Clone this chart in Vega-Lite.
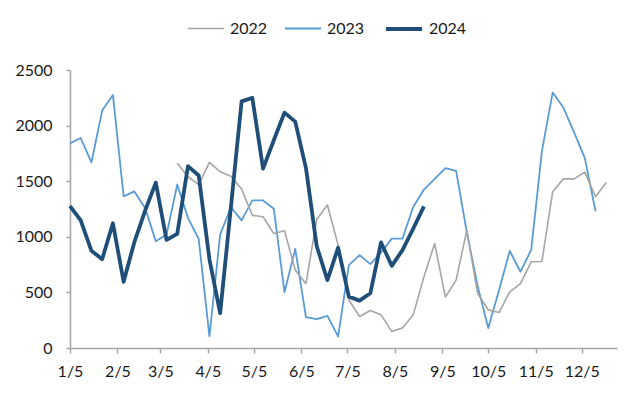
{
  "$schema": "https://vega.github.io/schema/vega-lite/v6.json",
  "width": 547,
  "height": 278,
  "autosize": {"type": "none"},
  "padding": {"left": 70, "top": 70, "right": 23, "bottom": 49},
  "background": "white",
  "config": {
    "view": {"stroke": null},
    "font": "Lato",
    "axis": {"labelFont": "Lato", "labelFontSize": 16, "labelColor": "#1a1a1a", "domainColor": "#a6a6a6", "tickColor": "#a6a6a6", "domainWidth": 1.5, "tickWidth": 1.5, "grid": false, "title": null}
  },
  "datasets": {
    "rows": [
      {"d": "2023-01-05", "year": "2023", "v": 1840}, {"d": "2023-01-12", "year": "2023", "v": 1888}, {"d": "2023-01-19", "year": "2023", "v": 1670}, {"d": "2023-01-26", "year": "2023", "v": 2135}, {"d": "2023-02-02", "year": "2023", "v": 2276}, {"d": "2023-02-09", "year": "2023", "v": 1363}, {"d": "2023-02-16", "year": "2023", "v": 1408}, {"d": "2023-02-23", "year": "2023", "v": 1260}, {"d": "2023-03-02", "year": "2023", "v": 960}, {"d": "2023-03-09", "year": "2023", "v": 1020}, {"d": "2023-03-16", "year": "2023", "v": 1470}, {"d": "2023-03-23", "year": "2023", "v": 1170}, {"d": "2023-03-30", "year": "2023", "v": 980}, {"d": "2023-04-06", "year": "2023", "v": 104}, {"d": "2023-04-13", "year": "2023", "v": 1020}, {"d": "2023-04-20", "year": "2023", "v": 1268}, {"d": "2023-04-27", "year": "2023", "v": 1148}, {"d": "2023-05-04", "year": "2023", "v": 1327}, {"d": "2023-05-11", "year": "2023", "v": 1327}, {"d": "2023-05-18", "year": "2023", "v": 1253}, {"d": "2023-05-25", "year": "2023", "v": 500}, {"d": "2023-06-01", "year": "2023", "v": 892}, {"d": "2023-06-08", "year": "2023", "v": 277}, {"d": "2023-06-15", "year": "2023", "v": 260}, {"d": "2023-06-22", "year": "2023", "v": 289}, {"d": "2023-06-29", "year": "2023", "v": 104}, {"d": "2023-07-06", "year": "2023", "v": 745}, {"d": "2023-07-13", "year": "2023", "v": 835}, {"d": "2023-07-20", "year": "2023", "v": 754}, {"d": "2023-07-27", "year": "2023", "v": 859}, {"d": "2023-08-03", "year": "2023", "v": 984}, {"d": "2023-08-10", "year": "2023", "v": 984}, {"d": "2023-08-17", "year": "2023", "v": 1268}, {"d": "2023-08-24", "year": "2023", "v": 1425}, {"d": "2023-08-31", "year": "2023", "v": 1521}, {"d": "2023-09-07", "year": "2023", "v": 1618}, {"d": "2023-09-14", "year": "2023", "v": 1593}, {"d": "2023-09-21", "year": "2023", "v": 1040}, {"d": "2023-09-28", "year": "2023", "v": 560}, {"d": "2023-10-05", "year": "2023", "v": 179}, {"d": "2023-10-12", "year": "2023", "v": 520}, {"d": "2023-10-19", "year": "2023", "v": 873}, {"d": "2023-10-26", "year": "2023", "v": 686}, {"d": "2023-11-02", "year": "2023", "v": 882}, {"d": "2023-11-09", "year": "2023", "v": 1770}, {"d": "2023-11-16", "year": "2023", "v": 2297}, {"d": "2023-11-23", "year": "2023", "v": 2162}, {"d": "2023-11-30", "year": "2023", "v": 1939}, {"d": "2023-12-07", "year": "2023", "v": 1708}, {"d": "2023-12-14", "year": "2023", "v": 1230},
      {"d": "2023-03-16", "year": "2022", "v": 1661}, {"d": "2023-03-23", "year": "2022", "v": 1540}, {"d": "2023-03-30", "year": "2022", "v": 1470}, {"d": "2023-04-06", "year": "2022", "v": 1670}, {"d": "2023-04-13", "year": "2022", "v": 1585}, {"d": "2023-04-20", "year": "2022", "v": 1545}, {"d": "2023-04-27", "year": "2022", "v": 1430}, {"d": "2023-05-04", "year": "2022", "v": 1193}, {"d": "2023-05-11", "year": "2022", "v": 1180}, {"d": "2023-05-18", "year": "2022", "v": 1029}, {"d": "2023-05-25", "year": "2022", "v": 1055}, {"d": "2023-06-01", "year": "2022", "v": 701}, {"d": "2023-06-08", "year": "2022", "v": 578}, {"d": "2023-06-15", "year": "2022", "v": 1155}, {"d": "2023-06-22", "year": "2022", "v": 1286}, {"d": "2023-06-29", "year": "2022", "v": 925}, {"d": "2023-07-06", "year": "2022", "v": 432}, {"d": "2023-07-13", "year": "2022", "v": 283}, {"d": "2023-07-20", "year": "2022", "v": 337}, {"d": "2023-07-27", "year": "2022", "v": 298}, {"d": "2023-08-03", "year": "2022", "v": 149}, {"d": "2023-08-10", "year": "2022", "v": 179}, {"d": "2023-08-17", "year": "2022", "v": 298}, {"d": "2023-08-24", "year": "2022", "v": 641}, {"d": "2023-08-31", "year": "2022", "v": 940}, {"d": "2023-09-07", "year": "2022", "v": 458}, {"d": "2023-09-14", "year": "2022", "v": 611}, {"d": "2023-09-21", "year": "2022", "v": 1059}, {"d": "2023-09-28", "year": "2022", "v": 492}, {"d": "2023-10-05", "year": "2022", "v": 343}, {"d": "2023-10-12", "year": "2022", "v": 319}, {"d": "2023-10-19", "year": "2022", "v": 505}, {"d": "2023-10-26", "year": "2022", "v": 578}, {"d": "2023-11-02", "year": "2022", "v": 775}, {"d": "2023-11-09", "year": "2022", "v": 778}, {"d": "2023-11-16", "year": "2022", "v": 1405}, {"d": "2023-11-23", "year": "2022", "v": 1521}, {"d": "2023-11-30", "year": "2022", "v": 1521}, {"d": "2023-12-07", "year": "2022", "v": 1581}, {"d": "2023-12-14", "year": "2022", "v": 1360}, {"d": "2023-12-21", "year": "2022", "v": 1488},
      {"d": "2023-01-05", "year": "2024", "v": 1275}, {"d": "2023-01-12", "year": "2024", "v": 1148}, {"d": "2023-01-19", "year": "2024", "v": 874}, {"d": "2023-01-26", "year": "2024", "v": 799}, {"d": "2023-02-02", "year": "2024", "v": 1122}, {"d": "2023-02-09", "year": "2024", "v": 596}, {"d": "2023-02-16", "year": "2024", "v": 952}, {"d": "2023-02-23", "year": "2024", "v": 1234}, {"d": "2023-03-02", "year": "2024", "v": 1487}, {"d": "2023-03-09", "year": "2024", "v": 972}, {"d": "2023-03-16", "year": "2024", "v": 1026}, {"d": "2023-03-23", "year": "2024", "v": 1636}, {"d": "2023-03-30", "year": "2024", "v": 1551}, {"d": "2023-04-06", "year": "2024", "v": 798}, {"d": "2023-04-13", "year": "2024", "v": 313}, {"d": "2023-04-20", "year": "2024", "v": 1266}, {"d": "2023-04-27", "year": "2024", "v": 2218}, {"d": "2023-05-04", "year": "2024", "v": 2249}, {"d": "2023-05-11", "year": "2024", "v": 1613}, {"d": "2023-05-18", "year": "2024", "v": 1868}, {"d": "2023-05-25", "year": "2024", "v": 2117}, {"d": "2023-06-01", "year": "2024", "v": 2036}, {"d": "2023-06-08", "year": "2024", "v": 1618}, {"d": "2023-06-15", "year": "2024", "v": 917}, {"d": "2023-06-22", "year": "2024", "v": 611}, {"d": "2023-06-29", "year": "2024", "v": 902}, {"d": "2023-07-06", "year": "2024", "v": 462}, {"d": "2023-07-13", "year": "2024", "v": 426}, {"d": "2023-07-20", "year": "2024", "v": 492}, {"d": "2023-07-27", "year": "2024", "v": 949}, {"d": "2023-08-03", "year": "2024", "v": 739}, {"d": "2023-08-10", "year": "2024", "v": 880}, {"d": "2023-08-17", "year": "2024", "v": 1074}, {"d": "2023-08-24", "year": "2024", "v": 1274}
    ]
  },
  "data": {"name": "rows"},
  "mark": {"type": "line", "strokeJoin": "round", "strokeCap": "butt"},
  "encoding": {
    "x": {
      "field": "d", "type": "temporal",
      "scale": {"type": "utc", "domain": [{"year": 2023, "month": 1, "date": 5, "utc": true}, {"year": 2023, "month": 12, "date": 28, "utc": true}]},
      "axis": {
        "values": [
          {"year": 2023, "month": 1, "date": 5, "utc": true}, {"year": 2023, "month": 2, "date": 5, "utc": true}, {"year": 2023, "month": 3, "date": 5, "utc": true}, {"year": 2023, "month": 4, "date": 5, "utc": true}, {"year": 2023, "month": 5, "date": 5, "utc": true}, {"year": 2023, "month": 6, "date": 5, "utc": true}, {"year": 2023, "month": 7, "date": 5, "utc": true}, {"year": 2023, "month": 8, "date": 5, "utc": true}, {"year": 2023, "month": 9, "date": 5, "utc": true}, {"year": 2023, "month": 10, "date": 5, "utc": true}, {"year": 2023, "month": 11, "date": 5, "utc": true}, {"year": 2023, "month": 12, "date": 5, "utc": true}
        ],
        "labelExpr": "utcFormat(datum.value, '%-m/%-d')", "tickSize": 5, "labelPadding": 10, "labelFlush": false, "labelOverlap": false
      }
    },
    "y": {
      "field": "v", "type": "quantitative",
      "scale": {"domain": [0, 2500], "nice": false},
      "axis": {"values": [0, 500, 1000, 1500, 2000, 2500], "format": "d", "tickSize": 4, "labelPadding": 14}
    },
    "color": {
      "field": "year", "type": "ordinal",
      "scale": {"domain": ["2022", "2023", "2024"], "range": ["#a5a5a5", "#5b9bd5", "#1f4e79"]},
      "legend": {"orient": "none", "legendX": 117, "legendY": -61, "direction": "horizontal", "title": null, "labelFontSize": 16, "labelFont": "Lato", "labelColor": "#1a1a1a", "symbolType": "stroke", "symbolSize": 1300, "labelOffset": 5, "columnPadding": 13}
    },
    "strokeWidth": {
      "field": "year", "type": "ordinal",
      "scale": {"type": "ordinal", "domain": ["2022", "2023", "2024"], "range": [1.6, 1.8, 3.8]},
      "legend": {"orient": "none", "legendX": 117, "legendY": -61, "direction": "horizontal", "title": null, "labelFontSize": 16, "labelFont": "Lato", "labelColor": "#1a1a1a", "symbolType": "stroke", "symbolSize": 1300, "labelOffset": 5, "columnPadding": 13}
    }
  }
}
